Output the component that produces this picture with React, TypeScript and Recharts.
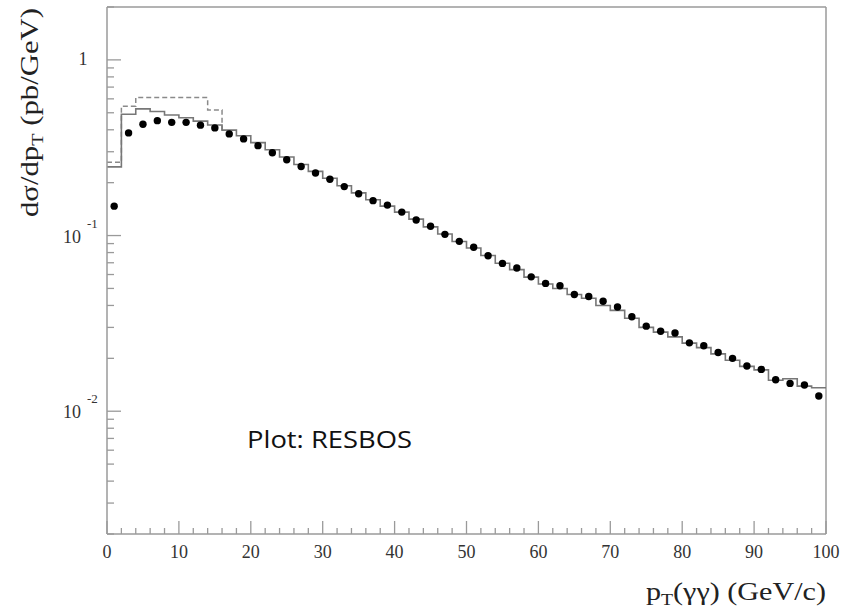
import React from 'react';
import {
  ComposedChart,
  Line,
  Scatter,
  XAxis,
  YAxis,
  ReferenceLine,
} from 'recharts';

// bin low edges (2 GeV bins) and bin centres for the points
const binLowEdges = [
  0, 2, 4, 6, 8, 10, 12, 14, 16, 18, 20, 22, 24, 26, 28, 30, 32, 34, 36, 38,
  40, 42, 44, 46, 48, 50, 52, 54, 56, 58, 60, 62, 64, 66, 68, 70, 72, 74, 76, 78,
  80, 82, 84, 86, 88, 90, 92, 94, 96, 98,
];
const binCentres = [
  1, 3, 5, 7, 9, 11, 13, 15, 17, 19, 21, 23, 25, 27, 29, 31, 33, 35, 37, 39,
  41, 43, 45, 47, 49, 51, 53, 55, 57, 59, 61, 63, 65, 67, 69, 71, 73, 75, 77, 79,
  81, 83, 85, 87, 89, 91, 93, 95, 97, 99,
];

// solid histogram (pb/GeV)
const solidLevels = [
  0.246, 0.49, 0.526, 0.508, 0.486, 0.468, 0.448, 0.426, 0.398, 0.37,
  0.338, 0.308, 0.28, 0.254, 0.232, 0.212, 0.192, 0.175, 0.16, 0.147,
  0.136, 0.124, 0.112, 0.102, 0.0925, 0.085, 0.077, 0.0695, 0.064, 0.058,
  0.053, 0.05, 0.0462, 0.044, 0.04, 0.0375, 0.0338, 0.03, 0.0282, 0.0265,
  0.0244, 0.023, 0.0212, 0.0195, 0.018, 0.0172, 0.015, 0.0153, 0.0139, 0.0136,
];

// dashed histogram, only drawn up to 16 GeV
const dashedLevels = [0.261, 0.545, 0.61, 0.61, 0.61, 0.61, 0.61, 0.519];

// data points
const dotValues = [
  0.147, 0.384, 0.43, 0.451, 0.441, 0.441, 0.425, 0.41, 0.379, 0.355,
  0.325, 0.296, 0.27, 0.247, 0.227, 0.209, 0.19, 0.173, 0.158, 0.149,
  0.136, 0.1226, 0.113, 0.1016, 0.0927, 0.0857, 0.0767, 0.0694, 0.0653, 0.0582,
  0.0534, 0.0518, 0.0462, 0.045, 0.0423, 0.0392, 0.0345, 0.0305, 0.0285, 0.0279,
  0.0245, 0.0236, 0.0216, 0.02, 0.0181, 0.0173, 0.0151, 0.0144, 0.0141, 0.0122,
];

const xMajorTicks = [0, 10, 20, 30, 40, 50, 60, 70, 80, 90, 100];
const yMajorTicks = [0.01, 0.1, 1];
const yMinorTicks = [
  0.002, 0.003, 0.004, 0.005, 0.006, 0.007, 0.008, 0.009,
  0.02, 0.03, 0.04, 0.05, 0.06, 0.07, 0.08, 0.09,
  0.2, 0.3, 0.4, 0.5, 0.6, 0.7, 0.8, 0.9, 2,
];

const solidData = binLowEdges
  .map((pt, i) => ({ pt, v: solidLevels[i] }))
  .concat([{ pt: 100, v: solidLevels[solidLevels.length - 1] }]);

const dashedData = dashedLevels
  .map((v, i) => ({ pt: binLowEdges[i], v }))
  .concat([{ pt: binLowEdges[dashedLevels.length], v: solidLevels[dashedLevels.length] }]);

const dotData = binCentres.map((pt, i) => ({ pt, v: dotValues[i] }));

const xTicks: number[] = [];
for (let t = 0; t <= 100; t += 2) xTicks.push(t);
const yTicks = [...yMinorTicks, ...yMajorTicks].sort((a, b) => a - b);

const AXIS = '#9a9a9a';
const SERIF = '"Liberation Serif", "DejaVu Serif", serif';

const XTick = ({ x, y, payload }: any) => {
  const major = xMajorTicks.includes(payload.value);
  return (
    <g>
      <line x1={x} x2={x} y1={y} y2={y - (major ? 13 : 6)} stroke={AXIS} strokeWidth={1.3} />
      {major && (
        <text x={x} y={y + 24} textAnchor="middle" fontFamily={SERIF} fontSize={18} fill="#333">
          {payload.value}
        </text>
      )}
    </g>
  );
};

const YTick = ({ x, y, payload }: any) => {
  const v = payload.value;
  const major = yMajorTicks.includes(v);
  let label = null;
  if (v === 1) {
    label = (
      <text x={x - 24} y={y + 5} textAnchor="middle" fontFamily={SERIF} fontSize={18} fill="#333">
        1
      </text>
    );
  } else if (major) {
    const exp = Math.round(Math.log10(v));
    label = (
      <g>
        <text x={x - 26} y={y + 7} textAnchor="end" fontFamily={SERIF} fontSize={18} fill="#333">
          10
        </text>
        <text x={x - 20} y={y - 8} textAnchor="start" fontFamily={SERIF} fontSize={13} fill="#333">
          {`-${-exp}`}
        </text>
      </g>
    );
  }
  return (
    <g>
      <line x1={x} x2={x + (major ? 14 : 7)} y1={y} y2={y} stroke={AXIS} strokeWidth={1.3} />
      {label}
    </g>
  );
};

const XTitle = ({ viewBox }: any) => (
  <text
    x={viewBox.x + viewBox.width - 180}
    y={600}
    textAnchor="start"
    fontFamily={SERIF}
    fontSize={26}
    fill="#222"
    textLength={180}
    lengthAdjust="spacingAndGlyphs"
  >
    p<tspan fontSize={17} dy={5}>T</tspan>
    <tspan dy={-5}>(γγ) (GeV/c)</tspan>
  </text>
);

const YTitle = () => (
  <text
    x={38}
    y={217}
    transform="rotate(-90 38 217)"
    textAnchor="start"
    fontFamily={SERIF}
    fontSize={26}
    fill="#222"
    textLength={209}
    lengthAdjust="spacingAndGlyphs"
  >
    dσ/dp<tspan fontSize={17} dy={5}>T</tspan>
    <tspan dy={-5}> (pb/GeV)</tspan>
  </text>
);

export default function App() {
  return (
    <div style={{ position: 'absolute', left: 0, top: 0, width: 852, height: 612, background: '#fff' }}>
      <ComposedChart
        width={852}
        height={612}
        margin={{ top: 7, right: 26, bottom: 38, left: 47 }}
      >
        <XAxis
          dataKey="pt"
          type="number"
          domain={[0, 100]}
          ticks={xTicks}
          interval={0}
          tick={<XTick />}
          tickLine={false}
          tickSize={0}
          tickMargin={0}
          height={40}
          axisLine={{ stroke: AXIS, strokeWidth: 1.5 }}
          label={<XTitle />}
          allowDataOverflow
        />
        <YAxis
          dataKey="v"
          type="number"
          scale="log"
          domain={[0.002, 2]}
          ticks={yTicks}
          interval={0}
          tick={<YTick />}
          tickLine={false}
          tickSize={0}
          tickMargin={0}
          width={60}
          axisLine={{ stroke: AXIS, strokeWidth: 1.5 }}
          label={<YTitle />}
          allowDataOverflow
        />
        <ReferenceLine y={2} stroke={AXIS} strokeWidth={1.5} ifOverflow="visible" />
        <ReferenceLine x={100} stroke={AXIS} strokeWidth={1.5} ifOverflow="visible" />
        <Line
          data={dashedData}
          dataKey="v"
          type="stepAfter"
          stroke="#8a8a8a"
          strokeWidth={1.5}
          strokeDasharray="5 3"
          dot={false}
          isAnimationActive={false}
        />
        <Line
          data={solidData}
          dataKey="v"
          type="stepAfter"
          stroke="#777"
          strokeWidth={1.6}
          dot={false}
          isAnimationActive={false}
        />
        <Scatter
          data={dotData}
          dataKey="v"
          fill="#000"
          shape={(p: any) => <circle cx={p.cx} cy={p.cy} r={3.7} fill="#000" />}
          isAnimationActive={false}
        />
      </ComposedChart>
      <svg
        width={852}
        height={612}
        style={{ position: 'absolute', left: 0, top: 0, pointerEvents: 'none' }}
      >
        <text
          x={247}
          y={448}
          fontFamily='"Open Sans", sans-serif'
          fontSize={23}
          fill="#111"
          textLength={165}
          lengthAdjust="spacingAndGlyphs"
        >
          Plot: RESBOS
        </text>
      </svg>
    </div>
  );
}
